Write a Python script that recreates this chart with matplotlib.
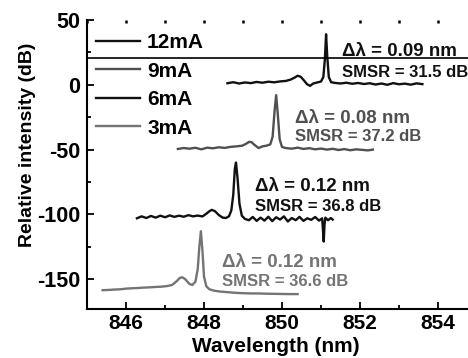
import matplotlib
matplotlib.use("Agg")
import matplotlib.pyplot as plt
from matplotlib.ticker import MultipleLocator

plt.rcParams["font.family"] = ["Liberation Sans", "DejaVu Sans"]
plt.rcParams["font.weight"] = "bold"
plt.rcParams["axes.unicode_minus"] = False

# spectra (wavelength in nm, intensity in dB, offset per current)
wl_12 = [848.60, 848.75, 848.90, 849.05, 849.20, 849.35, 849.50, 849.65, 849.80, 849.95,
         850.10, 850.22, 850.32, 850.40, 850.48, 850.56, 850.64, 850.72, 850.80, 850.90,
         851.00, 851.06, 851.10, 851.13, 851.16, 851.20, 851.26, 851.35, 851.50, 851.65,
         851.80, 851.95, 852.10, 852.25, 852.40, 852.55, 852.70, 852.85, 853.00, 853.15,
         853.30, 853.45, 853.60]
int_12 = [1.2, 2.0, 1.0, 1.8, 1.3, 2.2, 1.6, 2.4, 1.9, 2.6,
          3.0, 4.0, 5.5, 7.0, 6.2, 3.5, 0.5, -0.8, 1.0, 1.8,
          2.5, 6.0, 20.0, 39.0, 22.0, 6.0, 2.0, 1.5, 1.0, 1.6,
          0.8, 1.4, 0.6, 1.2, 0.2, 1.0, 0.0, 1.3, 0.4, 0.9,
          0.1, 1.1, 0.5]

wl_9 = [847.33, 847.48, 847.63, 847.78, 847.93, 848.08, 848.23, 848.38, 848.53, 848.68,
        848.83, 848.98, 849.08, 849.16, 849.22, 849.30, 849.40, 849.50, 849.60, 849.70,
        849.76, 849.81, 849.85, 849.89, 849.94, 850.00, 850.10, 850.25, 850.40, 850.55,
        850.70, 850.85, 851.00, 851.15, 851.30, 851.45, 851.60, 851.75, 851.90, 852.05,
        852.20, 852.33]
int_9 = [-49.5, -48.8, -49.3, -48.6, -49.8, -48.5, -49.0, -48.2, -48.7, -47.9,
         -47.5, -47.0, -45.5, -44.0, -44.3, -46.5, -48.8, -47.5, -47.0, -46.0,
         -40.0, -20.0, -8.0, -22.0, -42.0, -48.0, -48.8, -49.3, -48.5, -49.5,
         -48.9, -49.8, -49.2, -50.0, -49.4, -50.3, -49.6, -50.5, -49.8, -50.2,
         -50.6, -50.0]

wl_6 = [846.28, 846.40, 846.52, 846.64, 846.76, 846.88, 847.00, 847.12, 847.24, 847.36,
        847.48, 847.60, 847.72, 847.84, 847.96, 848.06, 848.14, 848.20, 848.28, 848.38,
        848.48, 848.56, 848.64, 848.70, 848.75, 848.79, 848.82, 848.86, 848.91, 848.97,
        849.05, 849.15, 849.25, 849.35, 849.45, 849.55, 849.65, 849.75, 849.85, 849.95,
        850.05, 850.15, 850.25, 850.35, 850.45, 850.55, 850.65, 850.75, 850.85, 850.95,
        851.03, 851.07, 851.09, 851.11, 851.18, 851.25, 851.30]
int_6 = [-103.0, -101.5, -102.8, -101.2, -102.5, -101.0, -102.2, -100.8, -101.9, -101.0,
         -101.8, -100.6, -101.5, -100.9, -101.6, -99.5, -97.5, -96.5, -97.5, -100.5,
         -102.5, -102.8, -101.5, -97.0, -85.0, -65.0, -60.0, -72.0, -92.0, -101.0,
         -103.5, -104.5, -102.0, -105.0, -102.5, -104.8, -101.8, -105.2, -102.2, -104.0,
         -101.5, -105.5, -102.8, -104.5, -101.9, -105.0, -103.0, -104.2, -102.0, -104.8,
         -103.0, -121.0, -108.0, -102.5, -104.5, -102.8, -104.0]

wl_3 = [845.40, 845.55, 845.70, 845.85, 846.00, 846.15, 846.30, 846.45, 846.60, 846.75,
        846.90, 847.05, 847.18, 847.30, 847.38, 847.44, 847.52, 847.62, 847.70, 847.78,
        847.84, 847.88, 847.92, 847.96, 848.00, 848.06, 848.14, 848.25, 848.40, 848.60,
        848.80, 849.00, 849.20, 849.40, 849.60, 849.80, 850.00, 850.20, 850.40]
int_3 = [-158.5, -158.3, -158.0, -157.8, -157.3, -157.0, -156.8, -156.5, -156.3, -156.0,
         -155.8, -155.3, -154.5, -151.5, -149.0, -148.5, -150.0, -153.5, -154.5, -152.0,
         -142.0, -125.0, -113.0, -128.0, -148.0, -155.5, -157.8, -158.8, -159.5, -160.0,
         -160.5, -160.8, -161.0, -161.0, -161.2, -161.3, -161.4, -161.5, -161.5]

labels = ["12mA", "9mA", "6mA", "3mA"]
colors = ["#111111", "#505050", "#111111", "#747474"]

dlambda = ["\u0394\u03bb = 0.09 nm", "\u0394\u03bb = 0.08 nm",
           "\u0394\u03bb = 0.12 nm", "\u0394\u03bb = 0.12 nm"]
smsr = ["SMSR = 31.5 dB", "SMSR = 37.2 dB", "SMSR = 36.8 dB", "SMSR = 36.6 dB"]
text_x = [851.54, 850.33, 849.30, 848.46]
text_y = [25.4, -26.0, -78.5, -137.0]
smsr_y = [9.2, -40.0, -94.0, -151.5]

fig = plt.figure(figsize=(4.68, 3.58), dpi=100)
ax = fig.add_axes([87 / 468, 49 / 358, 390 / 468, 289 / 358])

series = [(wl_12, int_12), (wl_9, int_9), (wl_6, int_6), (wl_3, int_3)]
for (wl, it), lab, col in zip(series, labels, colors):
    ax.plot(wl, it, color=col, lw=1.7, label=lab)

ax.axhline(21, color="black", lw=1.2)

for i in range(4):
    ax.text(text_x[i], text_y[i], dlambda[i], color=colors[i], fontsize=13.5,
            fontweight="bold", va="center", ha="left")
    ax.text(text_x[i], smsr_y[i], smsr[i], color=colors[i], fontsize=12,
            fontweight="bold", va="center", ha="left")

ax.set_xlim(845, 855)
ax.set_ylim(-173, 50)
ax.xaxis.set_major_locator(MultipleLocator(2))
ax.xaxis.set_minor_locator(MultipleLocator(1))
ax.yaxis.set_major_locator(MultipleLocator(50))
ax.yaxis.set_minor_locator(MultipleLocator(25))
ax.tick_params(which="both", direction="in", width=1.3)
ax.tick_params(which="major", length=5, pad=5)
ax.tick_params(which="minor", length=3)
ax.tick_params(axis="x", labelsize=15, pad=3.5)
ax.tick_params(axis="y", labelsize=15.5)
for lbl in ax.get_xticklabels() + ax.get_yticklabels():
    lbl.set_fontweight("bold")

# dotted top axis: tiny ticks only, no spine
top = ax.secondary_xaxis("top")
top.xaxis.set_major_locator(MultipleLocator(1))
top.tick_params(direction="in", length=2.5, width=1.8, color="black",
                labeltop=False)
top.spines["top"].set_visible(False)

ax.spines["top"].set_visible(False)
ax.spines["right"].set_visible(False)
ax.spines["left"].set_linewidth(1.5)
ax.spines["bottom"].set_linewidth(1.5)

ax.set_xlabel("Wavelength (nm)", fontsize=15, fontweight="bold")
ax.set_ylabel("Relative intensity (dB)", fontsize=14, fontweight="bold")
ax.xaxis.set_label_coords(0.485, -0.097)
ax.yaxis.set_label_coords(-0.131, 0.567)

ax.legend(loc="upper left", bbox_to_anchor=(96 / 468, 1 - 33 / 358),
          bbox_transform=fig.transFigure, frameon=False, fontsize=15,
          handlelength=2.1, handletextpad=0.35, labelspacing=0.46,
          borderpad=0, borderaxespad=0)

fig.savefig("out.png", dpi=100)
